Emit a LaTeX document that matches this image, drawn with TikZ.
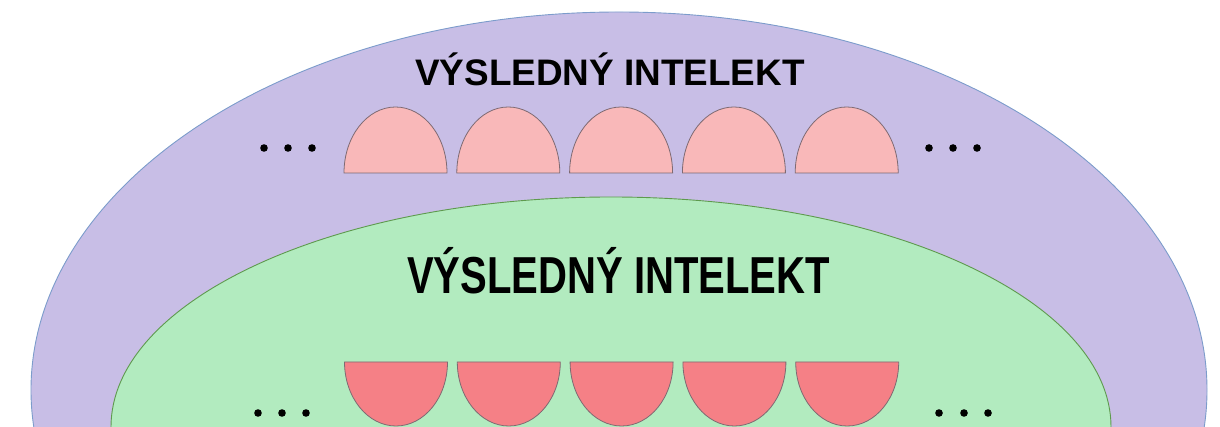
\documentclass[tikz,border=0pt]{standalone}
\usepackage{fontspec}
\setmainfont{Liberation Sans}
\definecolor{outerfill}{HTML}{C8BEE6}
\definecolor{outerline}{HTML}{7C9CCB}
\definecolor{innerfill}{HTML}{B2EBBF}
\definecolor{innerline}{HTML}{5E9A4E}
\definecolor{domefill}{HTML}{F9B8B9}
\definecolor{bowlfill}{HTML}{F58086}
\definecolor{cupline}{HTML}{7E6A72}
\tikzset{
  outerell/.style={fill=outerfill, draw=outerline, line width=0.9pt},
  innerell/.style={fill=innerfill, draw=innerline, line width=0.9pt},
  dome/.style={fill=domefill, draw=cupline, line width=0.8pt},
  bowl/.style={fill=bowlfill, draw=cupline, line width=0.8pt},
  dotmark/.style={fill=black},
  titletext/.style={inner sep=0pt, anchor=base, font=\bfseries}
}
\begin{document}
\begin{tikzpicture}[x=1pt,y=1pt]
\useasboundingbox (0,0) rectangle (1220,427);
\begin{scope}
\clip (0,0) rectangle (1220,427);
% outer ellipse
\draw[outerell] (619,37) ellipse [x radius=588, y radius=378];
% inner ellipse
\draw[innerell] (611,0) ellipse [x radius=500, y radius=230];
% domes (upper row)
\foreach \cx in {395.5,508.3,621.1,733.9,846.7}{
  \draw[dome] (\cx-51.5,254) arc [start angle=180, end angle=0, x radius=51.5, y radius=66] -- cycle;
}
% bowls (lower row)
\foreach \cx in {396,508.8,621.6,734.4,847.2}{
  \draw[bowl] (\cx-51.5,65) arc [start angle=180, end angle=360, x radius=51.5, y radius=64] -- cycle;
}
% dots
\foreach \x in {264,288,312,929,953,977}{
  \fill[dotmark] (\x,279) circle (3.8);
}
\foreach \x in {258,282,306,939,964,988}{
  \fill[dotmark] (\x,14) circle (3.8);
}
\end{scope}
\node[titletext] (toptitle) at (610,341) {\fontsize{36.9}{40}\selectfont V\'YSLEDN\'Y INTELEKT};
\node[titletext] (bottitle) at (618.5,133) {\scalebox{0.77}[1]{\fontsize{52}{56}\selectfont V\'YSLEDN\'Y INTELEKT}};
\end{tikzpicture}
\end{document}
